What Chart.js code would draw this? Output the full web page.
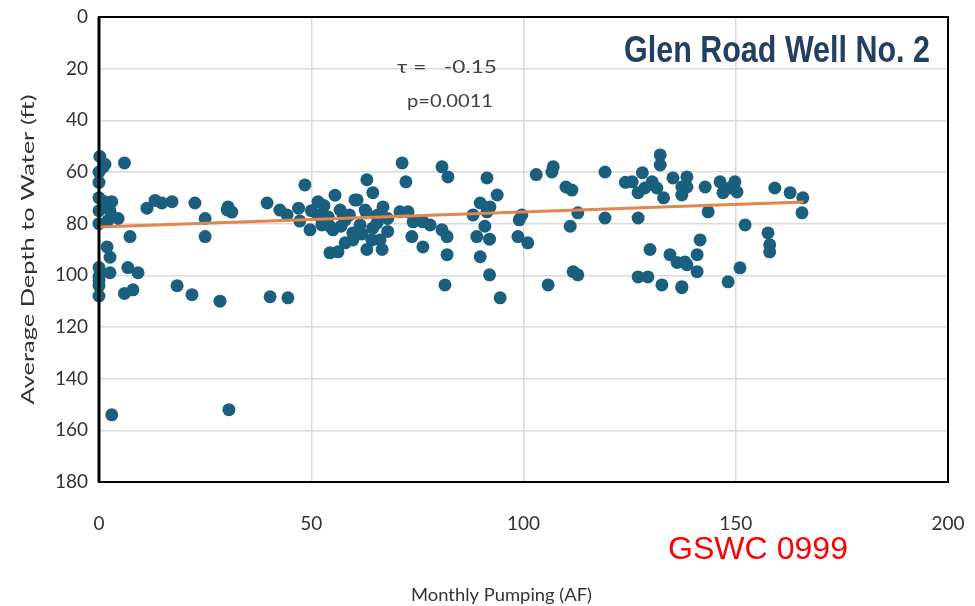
<!DOCTYPE html>
<html><head><meta charset="utf-8">
<script src="https://cdn.jsdelivr.net/npm/chart.js@4"></script>
<style>html,body{margin:0;padding:0;background:#fff;}#wrap{width:975px;height:606px;position:relative;}</style>
</head><body><div id="wrap"><canvas id="c" width="975" height="606"></canvas></div>
<script>
const pumpingAF = [0.2,6,0,0,1.4,3,0,2.6,4.5,2,0,7.3,1.9,2.6,6.8,9.2,2.6,0,0,0,6,8,11.3,13.2,14.8,17.2,22.6,25,25,18.4,21.9,28.5,30.4,31.3,30.2,3,30.6,0,1,0,0,
48.5,39.6,42.6,44.3,47,49.7,51.6,55.6,54,55.1,54.4,56.3,58,59.8,60.8,63.1,64.5,63.1,66.7,65.5,66.9,40.3,44.5,
56.8,59,61.5,62.7,64.3,65.7,51.6,52.5,47.3,58,60.3,53,57,62,68,68,50,
57.5,63,54.4,64.5,59.8,66.2,52.5,1.4,
71.4,72.3,80.8,82.2,91.4,93.8,89.8,88.1,91.4,92.1,70.9,72.8,74,76.3,78,73.7,76.3,80.8,82,82,81.5,89,90.9,92,89.8,92,94.5,99.6,99,98.7,101,103,
106.7,107,110,111.4,112.8,111,105.8,111.7,112.8,119.2,119.2,124,125.6,128,128.6,127,130.3,131.4,132.2,132.2,133,127,135.2,137.3,137.3,129.8,134.5,136.2,138.5,127,129.3,132.6,137.3,
138.5,138.5,142.8,146.3,147,149.8,150.3,148.6,159.2,162.8,165.8,165.6,143.5,152.2,157.6,158,158,141.6,140.9,138,140.9,137.3,151,148.2];
const depthFt = [54,56.5,60,64,71.5,71.5,75,75,78,79,80,85,89,93,97,99,99,100.5,104,108,107,105.6,74,71,72,71.5,72,78,85,104,107.5,110,73.5,75.5,74.7,154,152,70,58,97,102,
65,72,74.7,76.6,74,82.4,71.5,69,77.4,82.4,91.3,90.9,78.5,83.6,70.8,63,68,90,90,79.7,73.5,108.3,108.7,
74.7,76.6,80.5,74.7,86.3,76.6,76.6,80.5,79,87.4,70.8,73,81,84,78,83,75,
76.6,75.8,81,81.7,86.3,86.3,78.6,57,
56.5,63.8,58,61.9,62.3,68.9,72,76.6,75.4,73.5,75.4,75.4,79.3,79.3,80.5,85,89,82.4,85,92,103.7,85,81,86,92.8,99.8,108.7,76.6,78.5,85,87.4,61,
60,58,65.8,67,75.8,81,103.7,98.6,99.8,60,77.8,64,63.8,60.3,66.2,68,63.8,66.2,53.4,57.3,70,77.8,62.3,65.8,68.9,90,92,95,95.9,100.6,100.6,103.7,104.8,
61.9,65.8,65.8,63.8,68,63.8,67.7,66.2,66.2,68,70,75.8,75.4,80.5,83.6,88.2,90.9,86.3,92,94.8,98.6,104.4,97.1,102.5];
const trendX = [0, 166];
const trendY = [81.3, 71.6];
const xTicks = [0, 50, 100, 150, 200];
const yTicks = [0, 20, 40, 60, 80, 100, 120, 140, 160, 180];
const chartTitle = 'Glen Road Well No. 2';
const statTau = 'τ =   -0.15';
const statP = 'p=0.0011';
const stamp = 'GSWC 0999';
const xTitle = 'Monthly Pumping (AF)';
const yTitle = 'Average Depth to Water (ft)';

const scatterData = pumpingAF.map((x, i) => ({x: x, y: depthFt[i]}));
const trendData = trendX.map((x, i) => ({x: x, y: trendY[i]}));

const labelFont = "Lato, 'Liberation Sans', sans-serif";

function fitText(ctx, text, x, y, w, font, color, rot) {
  ctx.save();
  ctx.font = font;
  ctx.fillStyle = color;
  ctx.textBaseline = 'middle';
  ctx.textAlign = 'left';
  const m = ctx.measureText(text).width;
  const s = w / m;
  ctx.translate(x, y);
  if (rot) ctx.rotate(rot);
  ctx.scale(s, 1);
  ctx.fillText(text, 0, 0);
  ctx.restore();
}

const overlay = {
  id: 'overlay',
  afterDatasetsDraw(chart) {
    const ctx = chart.ctx, a = chart.chartArea;
    ctx.save();
    ctx.strokeStyle = '#000';
    ctx.lineWidth = 2;
    ctx.strokeRect(a.left, a.top, a.right - a.left, a.bottom - a.top);
    ctx.lineWidth = 3;
    ctx.beginPath(); ctx.moveTo(a.left, a.top); ctx.lineTo(a.left, a.bottom); ctx.stroke();
    ctx.restore();
  },
  afterDraw(chart) {
    const ctx = chart.ctx, a = chart.chartArea;
    fitText(ctx, chartTitle, 624, 52, 306, "bold 36px 'Liberation Sans', Arial, sans-serif", '#233f62');
    fitText(ctx, statTau, 397, 67, 100, "18px " + labelFont, '#404040');
    fitText(ctx, statP, 407, 101, 86, "18px " + labelFont, '#404040');
    fitText(ctx, stamp, 668, 550, 180, "32px 'Liberation Sans', Arial, sans-serif", '#ff0000');
    fitText(ctx, xTitle, 411, 595, 181, "18px " + labelFont, '#333');
    const cy = (a.top + a.bottom) / 2;
    fitText(ctx, yTitle, 28, cy + 155, 310, "18px " + labelFont, '#333', -Math.PI / 2);
  }
};

new Chart(document.getElementById('c'), {
  type: 'scatter',
  data: {
    datasets: [
      {
        label: 'trend', type: 'line', data: trendData,
        borderColor: '#e2864c', borderWidth: 3, pointRadius: 0, fill: false, order: 0
      },
      {
        label: 'data', data: scatterData,
        backgroundColor: '#1b5f7e', borderColor: '#1b5f7e', borderWidth: 0,
        pointRadius: 6.5, pointHoverRadius: 6.5, clip: false, order: 1
      }
    ]
  },
  options: {
    responsive: false, animation: false,
    layout: {padding: {top: 17, right: 27, left: 0, bottom: 0}},
    plugins: {legend: {display: false}, tooltip: {enabled: false}},
    scales: {
      x: {
        type: 'linear', min: 0, max: 200,
        afterBuildTicks: s => { s.ticks = xTicks.map(v => ({value: v})); },
        afterFit: s => { s.height = 124; s.paddingLeft = 0; s.paddingRight = 0; },
        grid: {color: '#d9d9d9', lineWidth: 1.5, drawTicks: false},
        border: {display: false},
        ticks: {padding: 30, color: '#333', font: {family: labelFont, size: 19}},
        title: {display: false, text: xTitle}
      },
      y: {
        type: 'linear', min: 0, max: 180, reverse: true,
        afterBuildTicks: s => { s.ticks = yTicks.map(v => ({value: v})); },
        afterFit: s => { s.width = 99; s.paddingTop = 0; s.paddingBottom = 0; },
        grid: {color: '#d9d9d9', lineWidth: 1.5, drawTicks: false},
        border: {display: false},
        ticks: {padding: 11, color: '#333', font: {family: labelFont, size: 19}},
        title: {display: false, text: yTitle}
      }
    }
  },
  plugins: [overlay]
});
</script></body></html>
